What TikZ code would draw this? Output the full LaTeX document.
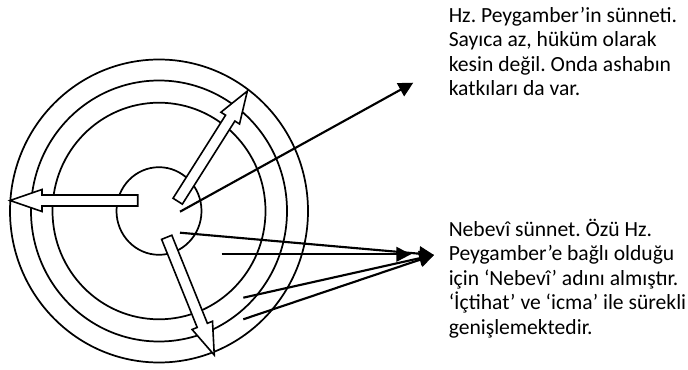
\documentclass[tikz,border=0pt]{standalone}
\usepackage{fontspec}
\setmainfont{Carlito}
\usetikzlibrary{arrows.meta}
\frenchspacing
\begin{document}
\begin{tikzpicture}[x=0.75pt,y=-0.75pt,
  ring/.style={line width=1.3pt},
  blockline/.style={line width=1.2pt, fill=white, line join=miter},
  pointer/.style={line width=1.6pt, -{Triangle[length=11pt,width=11pt]}},
  txt/.style={anchor=base west, inner sep=0pt, font=\fontsize{16.2}{19}\selectfont},
  pics/blockarr/.style={code={\draw[blockline] (0,-5.5) -- ({#1-32},-5.5) -- ({#1-32},-11) -- (#1,0) -- ({#1-32},11) -- ({#1-32},5.5) -- (0,5.5) -- cycle;}}]
\useasboundingbox (0,0) rectangle (688,370);
\coordinate (c) at (159,211);
\draw[ring] (c) ellipse [x radius=149, y radius=151.5];
\draw[ring] (c) ellipse [x radius=128, y radius=130.5];
\draw[ring] (c) ellipse [x radius=106.5, y radius=108.3];
\draw[ring] (c) ellipse [x radius=42.5, y radius=43.8];
% block arrows
\coordinate (tailL) at (137.7,200.5);
\coordinate (tailU) at (177.7,201.2);
\coordinate (tailD) at (166.7,237.3);
\pic[rotate=180] at (tailL) {blockarr=127.7};
\pic[rotate=57.7] at (tailU) {blockarr=130.3};
\pic[rotate=-68] at (tailD) {blockarr=127};
% pointer lines
\coordinate (s1) at (180,211.7);
\coordinate (sa) at (180,232.7);
\coordinate (sb) at (221.7,254.3);
\coordinate (sc) at (243.3,297.7);
\coordinate (sd) at (243.3,319.3);
\coordinate (tip1) at (413.3,82.7);
\coordinate (tipb) at (411,254.3);
\coordinate (tip2) at (434,255);
\draw[pointer] (s1) -- (tip1);
\draw[pointer] (sb) -- (tipb);
\draw[pointer] (sa) -- (tip2);
\draw[pointer] (sc) -- (tip2);
\draw[pointer] (sd) -- (tip2);
% texts
\node[txt] (t1) at (448.5,22.5) {Hz. Peygamber’in sünneti.};
\node[txt] (t2) at (448.5,47) {Sayıca az, hüküm olarak};
\node[txt] (t3) at (448.5,71.5) {kesin değil. Onda ashabın};
\node[txt] (t4) at (448.5,96) {katkıları da var.};
\node[txt] (n1) at (448.5,236) {Nebevî sünnet. Özü Hz.};
\node[txt] (n2) at (448.5,260.5) {Peygamber’e bağlı olduğu};
\node[txt] (n3) at (448.5,285) {için ‘Nebevî’ adını almıştır.};
\node[txt] (n4) at (448.5,309.5) {‘İçtihat’ ve ‘icma’ ile sürekli};
\node[txt] (n5) at (448.5,334) {genişlemektedir.};
\end{tikzpicture}
\end{document}
